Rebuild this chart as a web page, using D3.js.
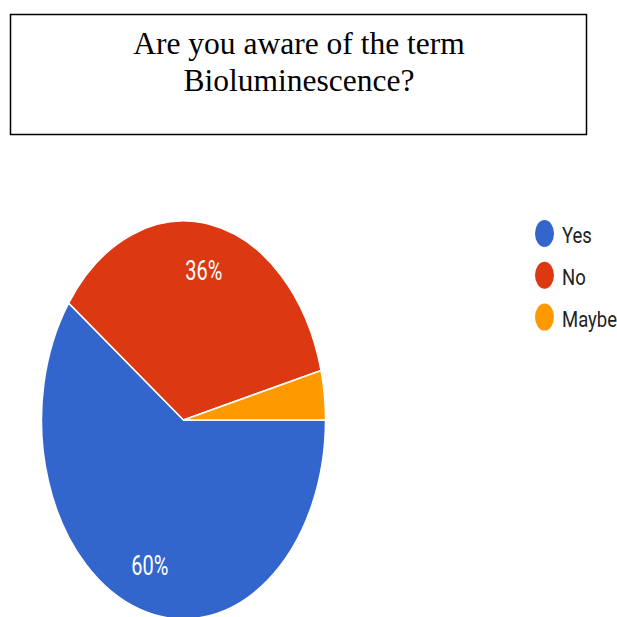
<!DOCTYPE html>
<html lang="en">
<head>
  <meta charset="UTF-8" />
  <title>Bioluminescence awareness</title>
  <script src="https://d3js.org/d3.v7.min.js"></script>
  <style>
    body { margin: 0; background: white; }
    svg { display: block; }
  </style>
</head>
<body>
  <script>
    const categories = ['Yes', 'No', 'Maybe'];
    const percents = [60, 36, 4];
    const colors = ['#3366cc', '#dc3912', '#ff9900'];
    const titleLines = ['Are you aware of the term', 'Bioluminescence?'];

    const w = 617, h = 617;
    const rx = 142;            // horizontal radius
    const stretch = 199 / 142; // picture is stretched vertically

    const svg = d3.select('body').append('svg')
      .attr('width', w)
      .attr('height', h);

    // title box
    svg.append('rect')
      .attr('x', 10.5).attr('y', 14.5)
      .attr('width', 576).attr('height', 120)
      .attr('fill', 'none')
      .attr('stroke', '#000')
      .attr('stroke-width', 1.5);

    svg.selectAll('.title')
      .data(titleLines)
      .enter()
      .append('text')
      .attr('class', 'title')
      .attr('x', 299)
      .attr('y', (d, i) => 54 + i * 37)
      .attr('text-anchor', 'middle')
      .attr('font-family', '"Liberation Serif", "Times New Roman", serif')
      .attr('font-size', '31.5px')
      .attr('fill', '#000')
      .text(d => d);

    const data = categories.map((c, i) => ({ name: c, value: percents[i], color: colors[i] }));

    const pie = d3.pie()
      .sort(null)
      .value(d => d.value)
      .startAngle(Math.PI / 2)
      .endAngle(Math.PI / 2 + 2 * Math.PI);

    const arc = d3.arc().innerRadius(0).outerRadius(rx);
    const labelArc = d3.arc().innerRadius(rx * 0.766).outerRadius(rx * 0.766);

    const g = svg.append('g')
      .attr('transform', `translate(183.5,420) scale(1,${stretch})`);

    g.selectAll('path')
      .data(pie(data))
      .enter()
      .append('path')
      .attr('d', arc)
      .attr('fill', d => d.data.color)
      .attr('stroke', 'white')
      .attr('stroke-width', 1.5)
      .attr('vector-effect', 'non-scaling-stroke');

    g.selectAll('.lbl')
      .data(pie(data).filter(d => d.data.value >= 10))
      .enter()
      .append('text')
      .attr('class', 'lbl')
      .attr('transform', d => `translate(${labelArc.centroid(d)})`)
      .attr('text-anchor', 'middle')
      .attr('dy', '0.35em')
      .attr('font-family', 'Roboto, Arial, sans-serif')
      .attr('font-size', '20px')
      .attr('fill', 'white')
      .text(d => d.data.value + '%');

    // legend
    const legend = svg.append('g')
      .attr('transform', 'translate(544.5,233.5)');

    const item = legend.selectAll('.item')
      .data(data)
      .enter()
      .append('g')
      .attr('class', 'item')
      .attr('transform', (d, i) => `translate(0,${i * 41.8})`);

    item.append('ellipse')
      .attr('rx', 9.5)
      .attr('ry', 13.5)
      .attr('fill', d => d.color);

    item.append('text')
      .attr('transform', 'translate(17.5,2) scale(1,1.2)')
      .attr('dy', '0.36em')
      .attr('font-family', 'Roboto, Arial, sans-serif')
      .attr('font-size', '18.5px')
      .attr('fill', '#222')
      .text(d => d.name);
  </script>
</body>
</html>
